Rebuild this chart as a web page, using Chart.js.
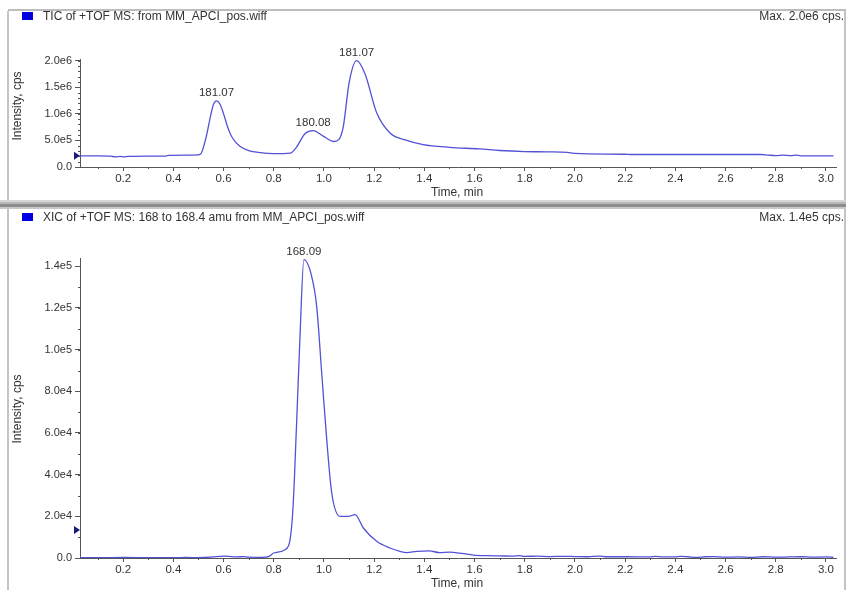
<!DOCTYPE html>
<html><head><meta charset="utf-8">
<script src="https://cdn.jsdelivr.net/npm/chart.js@4/dist/chart.umd.min.js"></script>
<style>
html,body{margin:0;padding:0;background:#fff;width:846px;height:590px;overflow:hidden;}
#c1{position:absolute;left:0;top:0;}
#c2{position:absolute;left:0;top:200px;}
</style></head>
<body>
<canvas id="c1" width="846" height="200"></canvas>
<canvas id="c2" width="846" height="390"></canvas>
<script>
// ---------- DATA ----------
const ticTimes  = [0.03,0.10,0.15,0.17,0.19,0.20,0.22,0.30,0.37,0.38,0.45,0.50,0.51,0.53,0.55,0.56,0.572,0.585,0.60,0.62,0.635,0.665,0.70,0.745,0.80,0.865,0.89,0.925,0.957,0.997,1.04,1.06,1.077,1.10,1.13,1.163,1.21,1.263,1.33,1.395,1.50,1.62,1.70,1.80,1.89,1.97,2.00,2.20,2.22,2.50,2.74,2.77,2.80,2.83,2.86,2.88,2.90,3.03];
const ticValues = [210000,210000,205000,190000,200000,190000,200000,205000,205000,220000,225000,230000,250000,550000,1000000,1180000,1245000,1190000,1000000,700000,550000,390000,310000,270000,250000,260000,370000,630000,685000,580000,480000,520000,760000,1580000,2000000,1760000,1020000,640000,500000,420000,370000,340000,310000,290000,285000,275000,255000,240000,235000,235000,235000,225000,215000,225000,215000,225000,210000,210000];

const xicTimes  = [0.03,0.10,0.20,0.30,0.40,0.45,0.50,0.55,0.60,0.62,0.65,0.68,0.70,0.75,0.78,0.80,0.845,0.865,0.877,0.891,0.904,0.92,0.951,0.971,0.991,1.011,1.031,1.064,1.097,1.124,1.157,1.21,1.263,1.303,1.33,1.37,1.42,1.46,1.50,1.55,1.595,1.65,1.70,1.75,1.78,1.80,1.85,1.90,1.95,2.00,2.05,2.10,2.12,2.20,2.30,2.32,2.35,2.40,2.42,2.45,2.48,2.52,2.55,2.60,2.65,2.70,2.75,2.80,2.85,2.90,2.95,3.00,3.03];
const xicValues = [200,200,250,200,150,250,200,400,900,800,500,700,400,300,700,2400,4000,8800,24800,64800,104800,143200,135200,120800,88800,56800,31200,20000,20000,20800,14400,8000,4800,3200,2600,3200,3400,2600,2800,2200,1400,1100,1000,900,1100,800,900,700,800,700,600,900,600,600,500,800,500,500,800,600,300,600,700,400,500,300,600,400,500,600,400,500,300];

const xTickValues   = [0.2,0.4,0.6,0.8,1.0,1.2,1.4,1.6,1.8,2.0,2.2,2.4,2.6,2.8,3.0];
const ticYTickValues = [0,500000,1000000,1500000,2000000];
const xicYTickValues = [0,20000,40000,60000,80000,100000,120000,140000];

const ticPeakTimes  = [0.572,0.957,1.13];
const ticPeakLabels = ["181.07","180.08","181.07"];
const xicPeakTimes  = [0.92];
const xicPeakLabels = ["168.09"];

const ticTitle = "TIC of +TOF MS: from MM_APCI_pos.wiff";
const ticMax   = "Max. 2.0e6 cps.";
const xicTitle = "XIC of +TOF MS: 168 to 168.4 amu from MM_APCI_pos.wiff";
const xicMax   = "Max. 1.4e5 cps.";
const xTitle = "Time, min";
const yTitle = "Intensity, cps";
const ticMarkerValue = 210000;
const xicMarkerValue = 13500;

// ---------- RENDER ----------
const FONT = "'Liberation Sans', Arial, sans-serif";
const TXT = '#333';
const AX = '#555';
const LINE = '#5252d6';

function fmtExp(v){ if(v===0) return '0.0'; return v.toExponential(1).replace('e+','e'); }

const panel = {
  id:'panel',
  beforeDraw(chart, args, o){
    const ctx = chart.ctx; ctx.save();
    ctx.fillStyle = '#fff'; ctx.fillRect(0,0,chart.width,chart.height);
    if(o.separator){
      ctx.fillStyle='#d6d6d6'; ctx.fillRect(0,0,846,2);
      ctx.fillStyle='#b8b8b8'; ctx.fillRect(0,2,846,2);
      ctx.fillStyle='#8c8c8c'; ctx.fillRect(0,4,846,3);
      ctx.fillStyle='#c8c8c8'; ctx.fillRect(0,7,846,2);
    } else {
      ctx.fillStyle='#bdbdbd'; ctx.fillRect(8,9,838,2);
    }
    const top0 = o.separator ? 9 : 11;
    ctx.fillStyle='#c4c4c4';
    ctx.fillRect(7, top0, 2, chart.height-top0);
    ctx.fillRect(844, top0, 2, chart.height-top0);
    // header
    ctx.fillStyle='#0000e0'; ctx.fillRect(22, o.headerY-5, 11, 8);
    ctx.font = '12px '+FONT; ctx.fillStyle = TXT; ctx.textBaseline='middle';
    ctx.textAlign='left'; ctx.fillText(o.title, 43, o.headerY);
    ctx.textAlign='right'; ctx.fillText(o.maxText, 844, o.headerY);
    ctx.restore();
  },
  afterDraw(chart, args, o){
    const ctx = chart.ctx; const xs = chart.scales.x, ys = chart.scales.y;
    const ca = chart.chartArea;
    ctx.save();
    ctx.strokeStyle = AX; ctx.lineWidth = 1;
    // minor x ticks
    ctx.beginPath();
    for(let i=1;i<=30;i+=2){ const t=i/10; if(t<xs.min||t>xs.max) continue;
      const px=Math.round(xs.getPixelForValue(t))+0.5; ctx.moveTo(px,ca.bottom); ctx.lineTo(px,ca.bottom+2); }
    // minor y ticks
    for(let v=o.yMinor; v<=ys.max; v+=o.yMinor){
      const py=Math.round(ys.getPixelForValue(v))+0.5; ctx.moveTo(ca.left-2,py); ctx.lineTo(ca.left,py); }
    ctx.stroke();
    // marker triangle
    const my = ys.getPixelForValue(o.markerValue);
    ctx.fillStyle='#1a1a7a'; ctx.beginPath();
    ctx.moveTo(ca.left, my); ctx.lineTo(ca.left-6, my-4); ctx.lineTo(ca.left-6, my+4); ctx.closePath(); ctx.fill();
    // peak labels
    const ds = chart.data.datasets[0].data;
    ctx.font='11.5px '+FONT; ctx.fillStyle=TXT; ctx.textAlign='center'; ctx.textBaseline='alphabetic';
    o.peakTimes.forEach((t,i)=>{
      let best=ds[0]; ds.forEach(p=>{ if(Math.abs(p.x-t)<Math.abs(best.x-t)) best=p; });
      ctx.fillText(o.peakLabels[i], xs.getPixelForValue(best.x), ys.getPixelForValue(best.y)-5);
    });
    // axis titles
    ctx.font='12px '+FONT;
    ctx.textBaseline='middle';
    ctx.fillText(xTitle, 457, o.xTitleY);
    ctx.translate(18, o.yTitleY); ctx.rotate(-Math.PI/2); ctx.fillText(yTitle, 0, 0);
    ctx.restore();
  }
};

function makeChart(id, times, values, yTicks, yMax, opts){
  const pts = times.map((t,i)=>({x:t, y:values[i]}));
  return new Chart(document.getElementById(id), {
    type:'line',
    data:{datasets:[{data:pts, borderColor:LINE, borderWidth:1.3, pointRadius:0, cubicInterpolationMode:'monotone', fill:false}]},
    options:{
      responsive:false, animation:false, maintainAspectRatio:false,
      layout:{padding:{left:0, right:10, top:opts.padTop, bottom:0}},
      plugins:{legend:{display:false}, tooltip:{enabled:false}, panel:opts},
      scales:{
        x:{type:'linear', min:0.028, max:3.04,
          afterBuildTicks(s){ s.ticks = xTickValues.map(v=>({value:v})); },
          afterFit(s){ s.height = opts.xH; },
          border:{display:true, color:AX, width:1},
          grid:{display:true, drawOnChartArea:false, drawTicks:true, tickLength:4, color:AX},
          ticks:{padding:1, maxRotation:0, autoSkip:false, color:TXT, font:{family:FONT, size:11.5}, callback:v=>v.toFixed(1)}
        },
        y:{type:'linear', min:0, max:yMax,
          afterBuildTicks(s){ s.ticks = yTicks.map(v=>({value:v})); },
          afterFit(s){ s.width = 80; },
          border:{display:true, color:AX, width:1},
          grid:{display:true, drawOnChartArea:false, drawTicks:true, tickLength:5, color:AX},
          ticks:{padding:3, color:TXT, font:{family:FONT, size:11}, callback:v=>fmtExp(v)}
        }
      }
    },
    plugins:[panel]
  });
}

makeChart('c1', ticTimes, ticValues, ticYTickValues, 2032000,
  {padTop:59, xH:33, title:ticTitle, maxText:ticMax, headerY:17, separator:false,
   yMinor:100000, markerValue:ticMarkerValue, peakTimes:ticPeakTimes, peakLabels:ticPeakLabels, xTitleY:193, yTitleY:106});
makeChart('c2', xicTimes, xicValues, xicYTickValues, 144000,
  {padTop:58, xH:32, title:xicTitle, maxText:xicMax, headerY:18, separator:true,
   yMinor:10000, markerValue:xicMarkerValue, peakTimes:xicPeakTimes, peakLabels:xicPeakLabels, xTitleY:384, yTitleY:209});
</script>
</body></html>
